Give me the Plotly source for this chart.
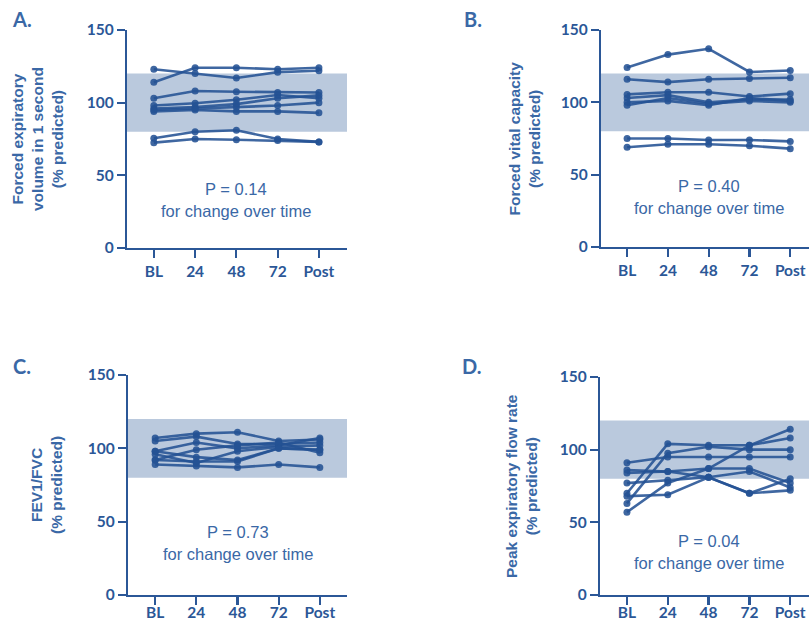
import plotly.graph_objects as go

# ---------------- data ----------------
timepoints = ["BL", "24", "48", "72", "Post"]

fev1 = [
    [123, 120, 117, 121, 122],
    [114, 124, 124, 123, 124],
    [103, 108, 107.5, 107, 107],
    [98, 99.6, 102, 105.3, 103],
    [96, 97, 99, 103, 105],
    [95, 96, 97, 98, 100],
    [94, 95, 94, 94, 93],
    [75.5, 80, 81, 75, 73],
    [72.5, 75, 74.5, 74, 73],
]

fvc = [
    [124, 133, 137, 121, 122],
    [116, 114, 116, 116.5, 117],
    [105.5, 107, 107, 104, 106],
    [103, 105, 100, 102, 102],
    [100, 101, 98, 103, 101],
    [98, 103, 99, 101, 100],
    [75, 75, 74, 74, 73],
    [69, 71, 71, 70, 68],
]

fev1_fvc = [
    [107, 110, 111, 105, 106],
    [105, 108, 103, 103, 104],
    [98, 104, 100, 102, 107],
    [96, 90, 98, 101, 102],
    [98, 94, 92, 100, 99],
    [92, 99, 102, 104, 97],
    [89, 88, 87, 89, 87],
    [92, 91, 91, 100, 99],
]

pefr = [
    [91, 95, 95, 95, 95],
    [70, 104, 103, 103, 108],
    [57, 77, 87, 103, 114],
    [63, 97.5, 102, 100, 100],
    [86, 85, 87, 87, 77],
    [84, 85, 81, 85, 74],
    [77, 79, 81, 70, 80],
    [68, 69, 81, 70, 72],
]

p_values = ["P = 0.14", "P = 0.40", "P = 0.73", "P = 0.04"]
panel_letters = ["A.", "B.", "C.", "D."]
y_titles = [
    "Forced expiratory<br>volume in 1 second<br>(% predicted)",
    "Forced vital capacity<br>(% predicted)",
    "FEV1/FVC<br>(% predicted)",
    "Peak expiratory flow rate<br>(% predicted)",
]
normal_low, normal_high = 80, 120
y_ticks = [0, 50, 100, 150]

# ---------------- styling ----------------
W, H = 809, 625
LINE = "rgba(36,82,148,0.88)"
AXIS = "#2b5797"
TEXT = "#3a68a6"
BAND = "rgb(186,201,221)"

def px_x(p):
    return p / W

def px_y(p):
    return 1 - p / H

panels = [
    dict(data=fev1, xd=[127, 347], yd=[30, 248], xr=[-0.65, 4.68], title_x=38, letter=(22, 19), p_y=(189, 211), lab_off=0),
    dict(data=fvc, xd=[601, 809], yd=[30, 247], xr=[-0.64, 4.46], title_x=524, letter=(473, 19), p_y=(186, 208), lab_off=0),
    dict(data=fev1_fvc, xd=[128, 347], yd=[375, 595], xr=[-0.66, 4.66], title_x=46, letter=(22, 366), p_y=(532, 554), lab_off=-6),
    dict(data=pefr, xd=[600, 809], yd=[377, 595], xr=[-0.66, 4.46], title_x=521, letter=(472, 366), p_y=(541, 563), lab_off=-6),
]

fig = go.Figure()
annotations = []
shapes = []
x_idx = list(range(len(timepoints)))

for i, pnl in enumerate(panels):
    n = "" if i == 0 else str(i + 1)
    xa, ya = "x" + n, "y" + n
    for series in pnl["data"]:
        fig.add_trace(go.Scatter(
            x=x_idx, y=series, xaxis=xa, yaxis=ya, mode="lines+markers",
            line=dict(color=LINE, width=2.6),
            marker=dict(color=LINE, size=7),
            showlegend=False, hoverinfo="skip", cliponaxis=False,
        ))
    axis_common = dict(
        showline=True, linecolor=AXIS, linewidth=2.2, ticks="outside",
        tickcolor=AXIS, tickwidth=2.2, ticklen=8, showgrid=False, zeroline=False,
        automargin=False,
        tickfont=dict(family="Lato", size=15.5, color=AXIS, weight="bold"),
    )
    fig.layout["xaxis" + n] = dict(
        axis_common, domain=[px_x(pnl["xd"][0]), px_x(pnl["xd"][1])],
        range=pnl["xr"], tickvals=x_idx, ticktext=timepoints,
        anchor=ya, fixedrange=True, ticklabelstandoff=pnl["lab_off"],
    )
    fig.layout["yaxis" + n] = dict(
        axis_common, domain=[px_y(pnl["yd"][1]), px_y(pnl["yd"][0])],
        range=[0, 150], tickvals=y_ticks, anchor=xa, fixedrange=True,
    )
    shapes.append(dict(
        type="rect", xref=xa + " domain", yref=ya, x0=0, x1=1,
        y0=normal_low, y1=normal_high, fillcolor=BAND, line=dict(width=0),
        layer="below",
    ))
    annotations.append(dict(
        text=y_titles[i], xref="paper", yref="paper",
        x=px_x(pnl["title_x"]), y=px_y((pnl["yd"][0] + pnl["yd"][1]) / 2),
        xanchor="center", yanchor="middle", textangle=-90, showarrow=False,
        font=dict(family="Liberation Sans", size=15.5, color=TEXT, weight="bold"),
    ))
    annotations.append(dict(
        text=panel_letters[i], xref="paper", yref="paper",
        x=px_x(pnl["letter"][0]), y=px_y(pnl["letter"][1]),
        xanchor="center", yanchor="middle", showarrow=False,
        font=dict(family="Lato", size=20, color=TEXT, weight="bold"),
    ))
    annotations.append(dict(
        text=p_values[i], xref=xa, yref="paper", x=2,
        y=px_y(pnl["p_y"][0]), xanchor="center", yanchor="middle", showarrow=False,
        font=dict(family="Liberation Sans", size=16.5, color=TEXT),
    ))
    annotations.append(dict(
        text="for change over time", xref=xa, yref="paper", x=2,
        y=px_y(pnl["p_y"][1]), xanchor="center", yanchor="middle", showarrow=False,
        font=dict(family="Liberation Sans", size=16.5, color=TEXT),
    ))

fig.update_layout(
    width=W, height=H, margin=dict(l=0, r=0, t=0, b=0, autoexpand=False),
    paper_bgcolor="white", plot_bgcolor="white",
    shapes=shapes, annotations=annotations,
)

fig.write_html(
    "out.html",
    config={"displayModeBar": False, "staticPlot": True},
    post_script="document.body.style.margin='0';document.body.style.overflow='hidden';",
)
